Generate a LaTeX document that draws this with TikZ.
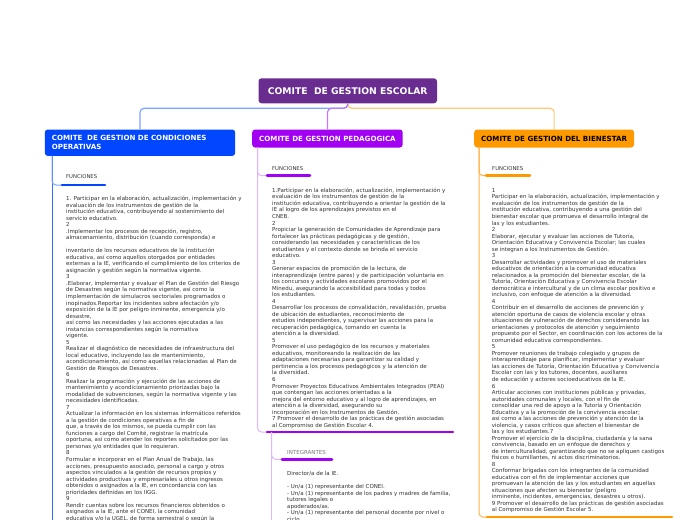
\documentclass[tikz,border=0pt]{standalone}
\usepackage{fontspec}
\setmainfont{DejaVu Sans}
\definecolor{rootc}{HTML}{692D8F}
\definecolor{bluec}{HTML}{0047FF}
\definecolor{purpc}{HTML}{A100F2}
\definecolor{orc}{HTML}{FF9900}
\definecolor{txtc}{HTML}{333333}
\definecolor{grayc}{HTML}{777777}
\definecolor{bluel}{HTML}{7BA3FF}
\definecolor{bluev}{HTML}{2F6BFF}
\definecolor{purpl}{HTML}{C27BF7}
\definecolor{purpv}{HTML}{E2B6FF}
\definecolor{orl}{HTML}{FFC978}
\definecolor{orv}{HTML}{FFB347}
\begin{document}
\begin{tikzpicture}[x=1pt,y=-1pt,
  hdr/.style={rounded corners=3pt, inner xsep=7pt, inner ysep=0pt, anchor=north west, align=left,
    font=\fontsize{7.1}{9}\selectfont\bfseries, text=white},
  body/.style={anchor=north west, inner sep=0pt, align=left, text=txtc,
    font=\fontsize{5.5}{6.52}\selectfont},
  lbl/.style={anchor=west, inner sep=0pt, text=txtc, font=\fontsize{5.3}{6}\selectfont},
  uline/.style={line width=2.6pt, line cap=round},
  branch/.style={line width=1.2pt, rounded corners=4pt},
  stem/.style={line width=1pt, rounded corners=4pt}
]
\useasboundingbox (0,0) rectangle (697,520);
\fill[white] (0,0) rectangle (697,520);

% root and headers
\node[fill=rootc, rounded corners=3pt, minimum width=178.5pt, minimum height=25pt, inner sep=0pt,
  text=white, font=\fontsize{9.2}{11}\selectfont\bfseries] (root) at (347.75,90.8) {COMITE\ \ DE GESTION ESCOLAR};
\node[hdr, fill=bluec, minimum height=26.4pt, text width=176.4pt] (h1) at (44.6,129.3)
  {COMITE\ \ DE GESTION DE CONDICIONES\\OPERATIVAS};
\node[hdr, fill=purpc, minimum height=18pt] (h2) at (252,129.3) {COMITE DE GESTION PEDAGOGICA};
\node[hdr, fill=orc, minimum height=18pt, text=black] (h3) at (474,129.3) {COMITE DE GESTION DEL BIENESTAR};

\coordinate (j) at (347.75,108.3);
\draw[branch, orl] (root.south) -- (j) -| (h3.north);
\draw[branch, bluel] (root.south) -- (j) -| (h1.north);
\draw[branch, purpl] (root.south) -- (j) -| (h2.north);

% ---------- column 1 ----------
\coordinate (v1t) at (52,155.7);
\coordinate (v1b) at (52,520);
\coordinate (f1a) at (62,185);
\coordinate (f1b) at (105,185);
\draw[stem, bluev] (v1t) -- (v1b);
\draw[stem, bluel] (v1t) |- (f1a);
\draw[uline, bluec] (f1a) -- (f1b);
\node[lbl] (f1) at (66,177) {FUNCIONES};
\node[body] (b1) at (66,196.1) {1. Participar en la elaboración, actualización, implementación y\\
evaluación de los instrumentos de gestión de la\\
institución educativa, contribuyendo al sostenimiento del\\
servicio educativo.\\
2\\
.Implementar los procesos de recepción, registro,\\
almacenamiento, distribución (cuando corresponda) e\\[6.52pt]
inventario de los recursos educativos de la institución\\
educativa, así como aquellos otorgados por entidades\\
externas a la IE, verificando el cumplimiento de los criterios de\\
asignación y gestión según la normativa vigente.\\
3\\
.Elaborar, implementar y evaluar el Plan de Gestión del Riesgo\\
de Desastres según la normativa vigente, así como la\\
implementación de simulacros sectoriales programados o\\
inopinados.Reportar los incidentes sobre afectación y/o\\
exposición de la IE por peligro inminente, emergencia y/o\\
desastre,\\
así como las necesidades y las acciones ejecutadas a las\\
instancias correspondientes según la normativa\\
vigente.\\
5\\
Realizar el diagnóstico de necesidades de infraestructura del\\
local educativo, incluyendo las de mantenimiento,\\
acondicionamiento, así como aquellas relacionadas al Plan de\\
Gestión de Riesgos de Desastres.\\
6\\
Realizar la programación y ejecución de las acciones de\\
mantenimiento y acondicionamiento priorizadas bajo la\\
modalidad de subvenciones, según la normativa vigente y las\\
necesidades identificadas.\\
7\\
Actualizar la información en los sistemas informáticos referidos\\
a la gestión de condiciones operativas a fin de\\
que, a través de los mismos, se pueda cumplir con las\\
funciones a cargo del Comité, registrar la matrícula\\
oportuna, así como atender los reportes solicitados por las\\
personas y/o entidades que lo requieran.\\
8\\
Formular e incorporar en el Plan Anual de Trabajo, las\\
acciones, presupuesto asociado, personal a cargo y otros\\
aspectos vinculados a la gestión de recursos propios y\\
actividades productivas y empresariales u otros ingresos\\
obtenidos o asignados a la IE, en concordancia con las\\
prioridades definidas en los IIGG.\\
9\\
Rendir cuentas sobre los recursos financieros obtenidos o\\
asignados a la IE, ante el CONEI, la comunidad\\
educativa y/o la UGEL, de forma semestral o según la};

% ---------- column 2 ----------
\coordinate (v2t) at (257.5,147.3);
\coordinate (f2a) at (267,175.7);
\coordinate (f2b) at (310,175.7);
\coordinate (u2a) at (267,432);
\coordinate (u2b) at (453,432);
\coordinate (v3t) at (271.7,432);
\coordinate (v3b) at (271.7,520);
\coordinate (i2a) at (282,459.3);
\coordinate (i2b) at (332,459.3);
\draw[stem, purpv] (v2t) |- (u2a);
\draw[stem, purpv] (v2t) |- (f2a);
\draw[uline, purpc] (f2a) -- (f2b);
\draw[uline, purpc] (u2a) -- (u2b);
\draw[stem, purpv] (v3t) -- (v3b);
\draw[stem, purpv] (v3t) |- (i2a);
\draw[uline, purpc] (i2a) -- (i2b);
\node[lbl] (f2) at (272,168.7) {FUNCIONES};
\node[body] (b2) at (272,187.8) {1.Participar en la elaboración, actualización, implementación y\\
evaluación de los instrumentos de gestión de la\\
institución educativa, contribuyendo a orientar la gestión de la\\
IE al logro de los aprendizajes previstos en el\\
CNEB.\\
2\\
Propiciar la generación de Comunidades de Aprendizaje para\\
fortalecer las prácticas pedagógicas y de gestión,\\
considerando las necesidades y características de los\\
estudiantes y el contexto donde se brinda el servicio\\
educativo.\\
3\\
Generar espacios de promoción de la lectura, de\\
interaprendizaje (entre pares) y de participación voluntaria en\\
los concursos y actividades escolares promovidos por el\\
Minedu, asegurando la accesibilidad para todas y todos\\
los estudiantes.\\
4\\
Desarrollar los procesos de convalidación, revalidación, prueba\\
de ubicación de estudiantes, reconocimiento de\\
estudios independientes, y supervisar las acciones para la\\
recuperación pedagógica, tomando en cuenta la\\
atención a la diversidad.\\
5\\
Promover el uso pedagógico de los recursos y materiales\\
educativos, monitoreando la realización de las\\
adaptaciones necesarias para garantizar su calidad y\\
pertinencia a los procesos pedagógicos y la atención de\\
la diversidad.\\
6\\
Promover Proyectos Educativos Ambientales Integrados (PEAI)\\
que contengan las acciones orientadas a la\\
mejora del entorno educativo y al logro de aprendizajes, en\\
atención a la diversidad, asegurando su\\
incorporación en los Instrumentos de Gestión.\\
7 Promover el desarrollo de las prácticas de gestión asociadas\\
al Compromiso de Gestión Escolar 4.};
\node[lbl, text=grayc, font=\fontsize{5.5}{6}\selectfont] (i2) at (287,452.7) {INTEGRANTES};
\node[body] (b4) at (287,471.3) {Director/a de la IE.\\[6.52pt]
- Un/a (1) representante del CONEI.\\
- Un/a (1) representante de los padres y madres de familia,\\
tutores legales o\\
apoderados/as.\\
- Un/a (1) representante del personal docente por nivel o\\
ciclo};

% ---------- column 3 ----------
\coordinate (v4t) at (479,147.3);
\coordinate (f3a) at (486,175.7);
\coordinate (f3b) at (530,175.7);
\coordinate (u3a) at (487,517);
\coordinate (u3b) at (672,517);
\draw[stem, orv] (v4t) |- (u3a);
\draw[stem, orv] (v4t) |- (f3a);
\draw[uline, orc] (f3a) -- (f3b);
\draw[uline, orc] (u3a) -- (u3b);
\node[lbl] (f3) at (492,169) {FUNCIONES};
\node[body] (b3) at (491.7,188.2) {1\\
Participar en la elaboración, actualización, implementación y\\
evaluación de los instrumentos de gestión de la\\
institución educativa, contribuyendo a una gestión del\\
bienestar escolar que promueva el desarrollo integral de\\
las y los estudiantes.\\
2\\
Elaborar, ejecutar y evaluar las acciones de Tutoría,\\
Orientación Educativa y Convivencia Escolar; las cuales\\
se integran a los Instrumentos de Gestión.\\
3\\
Desarrollar actividades y promover el uso de materiales\\
educativos de orientación a la comunidad educativa\\
relacionados a la promoción del bienestar escolar, de la\\
Tutoría, Orientación Educativa y Convivencia Escolar\\
democrática e intercultural y de un clima escolar positivo e\\
inclusivo, con enfoque de atención a la diversidad.\\
4\\
Contribuir en el desarrollo de acciones de prevención y\\
atención oportuna de casos de violencia escolar y otras\\
situaciones de vulneración de derechos considerando las\\
orientaciones y protocolos de atención y seguimiento\\
propuesto por el Sector, en coordinación con los actores de la\\
comunidad educativa correspondientes.\\
5\\
Promover reuniones de trabajo colegiado y grupos de\\
interaprendizaje para planificar, implementar y evaluar\\
las acciones de Tutoría, Orientación Educativa y Convivencia\\
Escolar con las y los tutores, docentes, auxiliares\\
de educación y actores socioeducativos de la IE.\\
6\\
Articular acciones con instituciones públicas y privadas,\\
autoridades comunales y locales, con el fin de\\
consolidar una red de apoyo a la Tutoría y Orientación\\
Educativa y a la promoción de la convivencia escolar;\\
así como a las acciones de prevención y atención de la\\
violencia, y casos críticos que afecten el bienestar de\\
las y los estudiantes.7\\
Promover el ejercicio de la disciplina, ciudadanía y la sana\\
convivencia, basado en un enfoque de derechos y\\
de interculturalidad, garantizando que no se apliquen castigos\\
físicos o humillantes, ni actos discriminatorios.\\
8\\
Conformar brigadas con los integrantes de la comunidad\\
educativa con el fin de implementar acciones que\\
promuevan la atención de las y los estudiantes en aquellas\\
situaciones que afecten su bienestar (peligro\\
inminente, incidentes, emergencias, desastres u otros).\\
9 Promover el desarrollo de las prácticas de gestión asociadas\\
al Compromiso de Gestión Escolar 5.};
\end{tikzpicture}
\end{document}
